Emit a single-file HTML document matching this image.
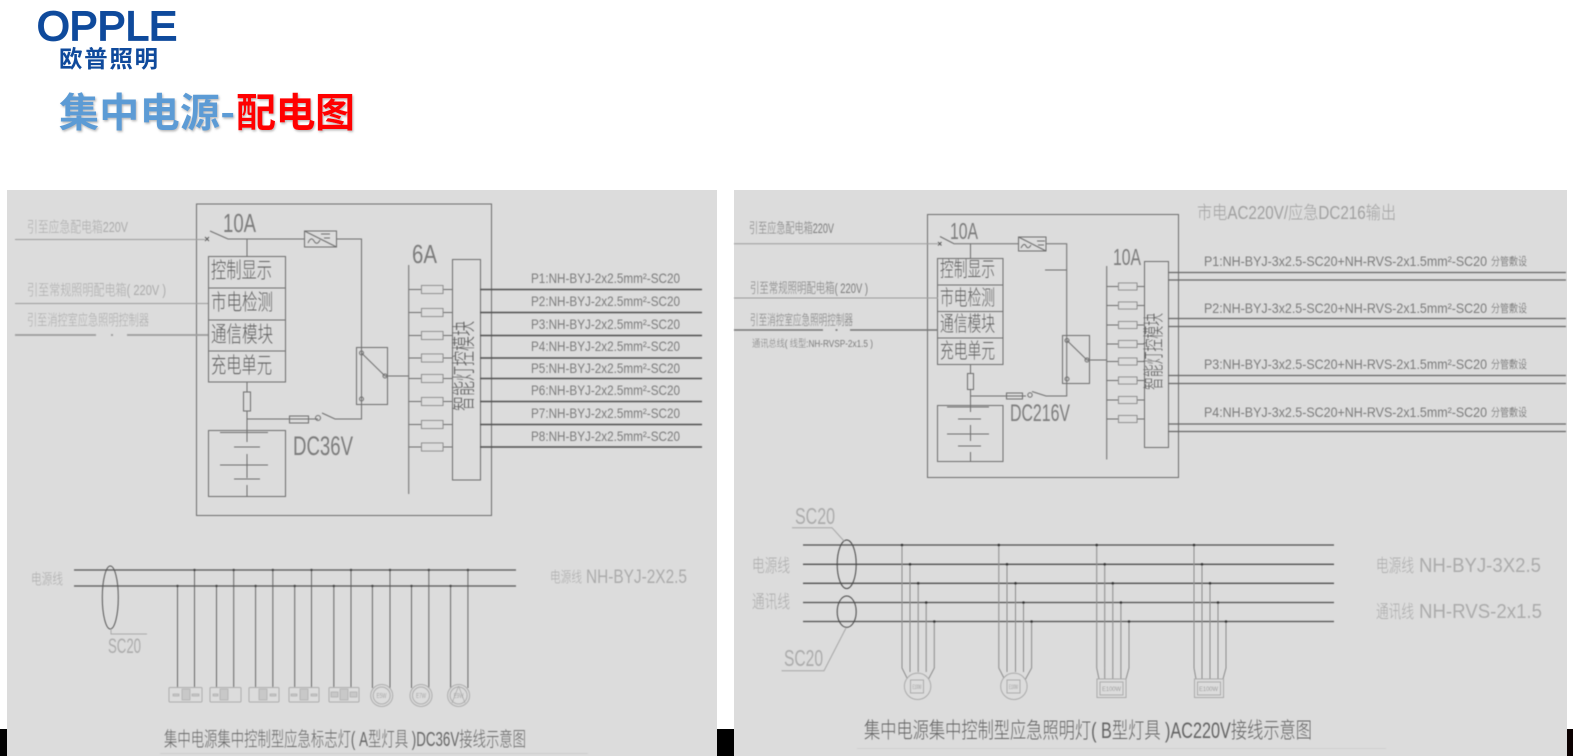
<!DOCTYPE html>
<html lang="zh"><head><meta charset="utf-8"><title>集中电源-配电图</title>
<style>
html,body{margin:0;padding:0;background:#fff;width:1573px;height:756px;overflow:hidden}
svg{display:block;position:absolute;left:0;top:0}
text{font-family:"Liberation Sans","Noto Sans CJK SC",sans-serif}
.c{font-family:"Liberation Sans","Noto Sans CJK SC",sans-serif;font-weight:300}
.d{fill:#5f5f5f}.m{fill:#7c7c7c}.l{fill:#ababab}
</style></head><body>
<svg width="1573" height="756" viewBox="0 0 1573 756" xmlns="http://www.w3.org/2000/svg">
<defs>
<filter id="b" x="-5%" y="-5%" width="110%" height="110%"><feGaussianBlur stdDeviation="0.45"/></filter>
<filter id="s" x="-5%" y="-20%" width="110%" height="140%"><feDropShadow dx="1" dy="1.5" stdDeviation="1" flood-color="#888" flood-opacity=".6"/></filter>
</defs>
<rect x="0" y="729" width="7" height="27" fill="#000"/>
<rect x="717" y="729" width="17" height="27" fill="#000"/>
<rect x="1567" y="729" width="6" height="27" fill="#0a0000"/>
<rect x="7" y="190" width="710" height="566" fill="#dcdcdc"/>
<rect x="734" y="190" width="833" height="566" fill="#dcdcdc"/>

<!-- header -->
<text x="37" y="40" font-size="41" fill="#0f4a9c" stroke="#0f4a9c" stroke-width="1.8" textLength="140" lengthAdjust="spacingAndGlyphs">OPPLE</text>
<text x="59" y="67" font-size="23.5" font-weight="700" fill="#0f4a9c" style="font-family:'Noto Sans CJK SC',sans-serif" textLength="99" lengthAdjust="spacing">欧普照明</text>
<g filter="url(#s)" font-weight="700" style="font-family:'Noto Sans CJK SC',sans-serif">
<text x="59" y="126.5" font-size="40" fill="#5b9bd5" textLength="176" lengthAdjust="spacing" style="font-family:'Noto Sans CJK SC',sans-serif">集中电源-</text>
<text x="236" y="126.5" font-size="40" fill="#ff0000" textLength="119" lengthAdjust="spacing" style="font-family:'Noto Sans CJK SC',sans-serif">配电图</text>
</g>

<g filter="url(#b)">
<!-- LEFT top -->
<g fill="none" stroke="#6e6e6e" stroke-width="1">
<rect x="196.5" y="204" width="295" height="311.5"/>
<rect x="208.5" y="256.5" width="77" height="125.5"/>
<path d="M208.5 288H285.5M208.5 320H285.5M208.5 351H285.5"/>
<rect x="243.5" y="392" width="7" height="19"/>
<rect x="208.5" y="430.5" width="77" height="66"/>
<path d="M210 231L228 239H304M247 239V256.5M247 382V392M247 411V442M234 447H260M247 454V478M220 465H268M234 479H260M247 485V496M220 432.5H268" />
<rect x="304.5" y="231" width="32" height="16"/>
<path d="M304.5 231L336.5 247M308 243q3-7 6-2t6-1M321 234h9M324 238h6"/>
<path d="M336.5 239H361.5V419H335L322 413M318 419H247"/>
<rect x="289.5" y="416" width="19" height="7"/>
<circle cx="318" cy="418" r="2.5"/>
<rect x="356.5" y="347.5" width="31" height="57"/>
<path d="M361.5 353L385 376M385 376H409"/>
<circle cx="361.5" cy="353" r="2"/><circle cx="385" cy="376" r="2"/><circle cx="361.5" cy="399" r="2"/>
<path d="M408.7 265V494"/>
<path d="M409 289.5H453M409 312.5H453M409 335.5H453M409 358H453M409 378.5H453M409 401.5H453M409 424.5H453M409 447H453"/>
<g fill="#dcdcdc" stroke="#8a8a8a">
<rect x="421.5" y="285.5" width="21.5" height="8"/><rect x="421.5" y="308.5" width="21.5" height="8"/><rect x="421.5" y="331.5" width="21.5" height="8"/><rect x="421.5" y="354" width="21.5" height="8"/><rect x="421.5" y="374.5" width="21.5" height="8"/><rect x="421.5" y="397.5" width="21.5" height="8"/><rect x="421.5" y="420.5" width="21.5" height="8"/><rect x="421.5" y="443" width="21.5" height="8"/>
</g>
<rect x="452.5" y="259.5" width="28" height="220.5"/>
</g>
<path d="M205 237l4 4m0-4l-4 4" stroke="#555" stroke-width=".9" fill="none"/>
<g stroke="#9c9c9c" fill="none">
<path d="M15 239.5H205M15 303.5H208" stroke-width="1"/>
<path d="M15 335H96M127 335H208" stroke-width="1.8"/>
<path d="M111 335h2" stroke-width="1.8"/>
</g>
<g stroke="#4e4e4e" fill="none">
<path d="M480 289.5H702M480 312.5H702M480 335.5H702M480 358H702M480 378.5H702M480 401.5H702M480 424.5H702M480 447H702" stroke-width="1.5"/>
</g>
<g class="l">
<text class="c l" x="27" y="232" font-size="15" textLength="101" lengthAdjust="spacingAndGlyphs">引至应急配电箱220V</text>
<text class="c l" x="27" y="295" font-size="15" textLength="139" lengthAdjust="spacingAndGlyphs">引至常规照明配电箱( 220V )</text>
<text class="c l" x="27" y="325" font-size="15" textLength="122" lengthAdjust="spacingAndGlyphs">引至消控室应急照明控制器</text>
</g>
<g class="d">
<text class="c" x="211" y="278" font-size="22" textLength="61" lengthAdjust="spacingAndGlyphs">控制显示</text>
<text class="c" x="211" y="310" font-size="22" textLength="62" lengthAdjust="spacingAndGlyphs">市电检测</text>
<text class="c" x="211" y="342" font-size="22" textLength="62" lengthAdjust="spacingAndGlyphs">通信模块</text>
<text class="c" x="211" y="373" font-size="22" textLength="61" lengthAdjust="spacingAndGlyphs">充电单元</text>
</g>
<g class="m">
<text x="223" y="232" font-size="26" textLength="33" lengthAdjust="spacingAndGlyphs">10A</text>
<text x="293" y="455" font-size="27" textLength="60" lengthAdjust="spacingAndGlyphs">DC36V</text>
<text x="412" y="263" font-size="26" textLength="25" lengthAdjust="spacingAndGlyphs">6A</text>
</g>
<text class="c d" transform="translate(472,411) rotate(-90)" font-size="24" textLength="90" lengthAdjust="spacingAndGlyphs">智能灯控模块</text>
<g class="m">
<text x="531" y="283" font-size="14" textLength="149" lengthAdjust="spacingAndGlyphs">P1:NH-BYJ-2x2.5mm²-SC20</text>
<text x="531" y="306" font-size="14" textLength="149" lengthAdjust="spacingAndGlyphs">P2:NH-BYJ-2x2.5mm²-SC20</text>
<text x="531" y="329" font-size="14" textLength="149" lengthAdjust="spacingAndGlyphs">P3:NH-BYJ-2x2.5mm²-SC20</text>
<text x="531" y="351" font-size="14" textLength="149" lengthAdjust="spacingAndGlyphs">P4:NH-BYJ-2x2.5mm²-SC20</text>
<text x="531" y="373" font-size="14" textLength="149" lengthAdjust="spacingAndGlyphs">P5:NH-BYJ-2x2.5mm²-SC20</text>
<text x="531" y="395" font-size="14" textLength="149" lengthAdjust="spacingAndGlyphs">P6:NH-BYJ-2x2.5mm²-SC20</text>
<text x="531" y="418" font-size="14" textLength="149" lengthAdjust="spacingAndGlyphs">P7:NH-BYJ-2x2.5mm²-SC20</text>
<text x="531" y="441" font-size="14" textLength="149" lengthAdjust="spacingAndGlyphs">P8:NH-BYJ-2x2.5mm²-SC20</text>
</g>

<!-- LEFT bottom -->
<path d="M74 570H516M74 586H516" stroke="#555" stroke-width="1.3" fill="none"/>
<ellipse cx="110.3" cy="597.5" rx="8" ry="31.5" fill="none" stroke="#555" stroke-width="1"/>
<path d="M111 629V634H147" stroke="#aaa" fill="none"/>
<path d="M177.5 586V688M194.5 570V688M216.5 586V688M233.7 570V688M255.6 586V688M272.8 570V688M294.7 586V688M311.5 570V688M333.8 586V688M351 570V688M372.4 586V688M390 570V688M411.5 586V688M428.8 570V688M450.6 586V688M467.9 570V688" stroke="#5a5a5a" stroke-width=".9" fill="none"/>
<g fill="#444">
<circle cx="194.5" cy="570" r="1.2"/><circle cx="233.7" cy="570" r="1.2"/><circle cx="272.8" cy="570" r="1.2"/><circle cx="311.5" cy="570" r="1.2"/><circle cx="351" cy="570" r="1.2"/><circle cx="390" cy="570" r="1.2"/><circle cx="428.8" cy="570" r="1.2"/><circle cx="467.9" cy="570" r="1.2"/>
<circle cx="177.5" cy="586" r="1.2"/><circle cx="216.5" cy="586" r="1.2"/><circle cx="255.6" cy="586" r="1.2"/><circle cx="294.7" cy="586" r="1.2"/><circle cx="333.8" cy="586" r="1.2"/><circle cx="372.4" cy="586" r="1.2"/><circle cx="411.5" cy="586" r="1.2"/><circle cx="450.6" cy="586" r="1.2"/>
</g>
<g fill="#dcdcdc" stroke="#ababab">
<rect x="169" y="687.5" width="33" height="14.5" rx="1"/><rect x="210" y="687.5" width="31" height="14.5" rx="1"/><rect x="249" y="687.5" width="30" height="14.5" rx="1"/><rect x="289" y="687.5" width="30" height="14.5" rx="1"/><rect x="329" y="687.5" width="30" height="14.5" rx="1"/>
<circle cx="381.7" cy="695.5" r="11"/><circle cx="381.7" cy="695.5" r="8.5"/>
<circle cx="421" cy="695.5" r="11"/><circle cx="421" cy="695.5" r="8.5"/>
<circle cx="458.6" cy="695.5" r="11"/><circle cx="458.6" cy="695.5" r="8.5"/>
</g>
<g fill="#c8c8c8" stroke="#b0b0b0" stroke-width=".8">
<rect x="182" y="689" width="8" height="11"/><rect x="220" y="689" width="8" height="11"/><rect x="259" y="689" width="8" height="11"/><rect x="300" y="689" width="8" height="11"/><rect x="340" y="689" width="8" height="11"/>
<rect x="173" y="694" width="6" height="2"/><rect x="192" y="694" width="7" height="2"/><rect x="213" y="694" width="5" height="2"/><rect x="270" y="694" width="6" height="2"/><rect x="291" y="694" width="6" height="2"/><rect x="311" y="694" width="6" height="2"/><rect x="331" y="692" width="7" height="5"/><rect x="350" y="692" width="7" height="5"/>
</g>
<g fill="#a6a6a6" font-size="7">
<text x="376.5" y="698" textLength="10" lengthAdjust="spacingAndGlyphs">E5W</text>
<text x="416" y="698" textLength="10" lengthAdjust="spacingAndGlyphs">E7W</text>
<text x="453.6" y="698" textLength="10" lengthAdjust="spacingAndGlyphs">E9W</text>
</g>
<path d="M458.6 686L452 703M458.6 686L465 703" stroke="#a8a8a8" fill="none" stroke-width=".8"/>
<text class="c l" x="31" y="584" font-size="15" textLength="32" lengthAdjust="spacingAndGlyphs">电源线</text>
<text class="c l" x="550" y="582" font-size="15" textLength="32" lengthAdjust="spacingAndGlyphs">电源线</text>
<text class="l" x="586" y="583" font-size="19" textLength="101" lengthAdjust="spacingAndGlyphs">NH-BYJ-2X2.5</text>
<text class="l" x="108" y="653" font-size="21" textLength="33" lengthAdjust="spacingAndGlyphs">SC20</text>
<text class="c" fill="#666" x="164" y="746" font-size="20" textLength="362" lengthAdjust="spacingAndGlyphs">集中电源集中控制型应急标志灯( A型灯具 )DC36V接线示意图</text>
<path d="M160 753.5H588" stroke="#cdcdcd" fill="none"/>

<!-- RIGHT top -->
<g fill="none" stroke="#6e6e6e" stroke-width="1">
<rect x="927.5" y="214.5" width="251" height="263"/>
<rect x="937.5" y="258.5" width="65.5" height="106"/>
<path d="M937.5 285H1003M937.5 311.5H1003M937.5 338H1003"/>
<rect x="967.5" y="373.5" width="6" height="16"/>
<rect x="937.5" y="405.5" width="65.5" height="56"/>
<path d="M940 236.5L954 243.7H1018M970.5 243.7V258.5M970.5 364.5V373.5M970.5 389.5V412M958 419H981M970.5 425V441M947 434H989M958 446H981M970.5 452V461M947 407H989"/>
<rect x="1018.5" y="237" width="27.5" height="14"/>
<path d="M1018.5 237L1046 251M1021 248q3-6 5-2t5-1M1037 241h8M1038 245h6"/>
<path d="M1046 243.7H1066.7V396H1046L1032 391.5M1026 396H970.5M1045 270H1066.7"/>
<rect x="1006.5" y="393" width="16" height="6"/>
<circle cx="1030" cy="395" r="2.2"/>
<rect x="1062.5" y="335.5" width="27" height="48"/>
<path d="M1067 340.5L1087 360H1107"/>
<circle cx="1067" cy="340.5" r="2"/><circle cx="1087" cy="360" r="2"/><circle cx="1067" cy="379" r="2"/>
<path d="M1106.7 266V459.5"/>
<path d="M1107 286.5H1145M1107 305.5H1145M1107 325H1145M1107 344H1145M1107 361.5H1145M1107 380.5H1145M1107 400H1145M1107 419H1145"/>
<g fill="#dcdcdc" stroke="#8a8a8a">
<rect x="1118.5" y="283" width="18.5" height="7"/><rect x="1118.5" y="302" width="18.5" height="7"/><rect x="1118.5" y="321.5" width="18.5" height="7"/><rect x="1118.5" y="340.5" width="18.5" height="7"/><rect x="1118.5" y="358" width="18.5" height="7"/><rect x="1118.5" y="377" width="18.5" height="7"/><rect x="1118.5" y="396.5" width="18.5" height="7"/><rect x="1118.5" y="415.5" width="18.5" height="7"/>
</g>
<rect x="1144.5" y="261.5" width="24" height="186"/>
</g>
<path d="M938 242l3.5 3.5m0-3.5l-3.5 3.5" stroke="#555" stroke-width=".9" fill="none"/>
<g stroke="#9c9c9c" fill="none">
<path d="M734 243.7H938M734 298H938" stroke-width="1"/>
<path d="M734 330H823M850 330H938" stroke="#777" stroke-width="1.6"/>
<path d="M835.5 330h2" stroke="#777" stroke-width="1.6"/>
</g>
<g stroke="#666" fill="none" stroke-width="1.2">
<path d="M1168 272.5H1566M1168 280H1566M1168 318.5H1566M1168 326.5H1566M1168 375.5H1566M1168 383.5H1566M1168 424H1566M1168 431.5H1566"/>
</g>
<g class="m">
<text class="c" x="749" y="233" font-size="14" textLength="85" lengthAdjust="spacingAndGlyphs">引至应急配电箱220V</text>
<text class="c" x="750" y="293" font-size="14" textLength="118" lengthAdjust="spacingAndGlyphs">引至常规照明配电箱( 220V )</text>
<text class="c" x="750" y="325" font-size="14" textLength="103" lengthAdjust="spacingAndGlyphs">引至消控室应急照明控制器</text>
<text class="c" x="752" y="347" font-size="10" textLength="121" lengthAdjust="spacingAndGlyphs">通讯总线( 线型:NH-RVSP-2x1.5 )</text>
</g>
<g class="d">
<text class="c" x="940" y="276.5" font-size="21" textLength="55" lengthAdjust="spacingAndGlyphs">控制显示</text>
<text class="c" x="940" y="305" font-size="21" textLength="55" lengthAdjust="spacingAndGlyphs">市电检测</text>
<text class="c" x="940" y="331" font-size="21" textLength="55" lengthAdjust="spacingAndGlyphs">通信模块</text>
<text class="c" x="940" y="358" font-size="21" textLength="55" lengthAdjust="spacingAndGlyphs">充电单元</text>
</g>
<g class="m">
<text x="950" y="239" font-size="23" textLength="28" lengthAdjust="spacingAndGlyphs">10A</text>
<text x="1010" y="421" font-size="24" textLength="60" lengthAdjust="spacingAndGlyphs">DC216V</text>
<text x="1113" y="265" font-size="23" textLength="28" lengthAdjust="spacingAndGlyphs">10A</text>
</g>
<text class="c d" transform="translate(1161,390) rotate(-90)" font-size="21" textLength="77" lengthAdjust="spacingAndGlyphs">智能灯控模块</text>
<text class="c" x="1197" y="219" font-size="18" textLength="199" lengthAdjust="spacingAndGlyphs" fill="#a0a0a0">市电AC220V/应急DC216输出</text>
<g class="m">
<text x="1204" y="266" font-size="14" textLength="283" lengthAdjust="spacingAndGlyphs">P1:NH-BYJ-3x2.5-SC20+NH-RVS-2x1.5mm²-SC20</text>
<text x="1204" y="313" font-size="14" textLength="283" lengthAdjust="spacingAndGlyphs">P2:NH-BYJ-3x2.5-SC20+NH-RVS-2x1.5mm²-SC20</text>
<text x="1204" y="369" font-size="14" textLength="283" lengthAdjust="spacingAndGlyphs">P3:NH-BYJ-3x2.5-SC20+NH-RVS-2x1.5mm²-SC20</text>
<text x="1204" y="417" font-size="14" textLength="283" lengthAdjust="spacingAndGlyphs">P4:NH-BYJ-3x2.5-SC20+NH-RVS-2x1.5mm²-SC20</text>
</g>
<g class="d">
<text class="c" x="1491" y="265" font-size="11" textLength="36" lengthAdjust="spacingAndGlyphs">分管敷设</text>
<text class="c" x="1491" y="312" font-size="11" textLength="36" lengthAdjust="spacingAndGlyphs">分管敷设</text>
<text class="c" x="1491" y="368" font-size="11" textLength="36" lengthAdjust="spacingAndGlyphs">分管敷设</text>
<text class="c" x="1491" y="416" font-size="11" textLength="36" lengthAdjust="spacingAndGlyphs">分管敷设</text>
</g>

<!-- RIGHT bottom -->
<path d="M803 545H1334M803 564.3H1334M803 583.3H1334M803 602.5H1334M803 621.5H1334" stroke="#505050" stroke-width="1.3" fill="none"/>
<ellipse cx="846.7" cy="564.3" rx="9.5" ry="24.3" fill="none" stroke="#444" stroke-width="1"/>
<ellipse cx="846.7" cy="611.7" rx="9.5" ry="15.7" fill="none" stroke="#444" stroke-width="1"/>
<path d="M792 527.7H832L844 541M781.6 670.7H824L846 628" stroke="#a6a6a6" fill="none"/>
<g stroke="#8c8c8c" fill="none">
<path d="M902 545V668L908 680M910 564V672M918.2 583V672M926.2 602V672M934.3 621.5V668L928 680"/>
<path d="M998.8 545V668L1005 680M1007 564V672M1015.5 583V672M1023.5 602V672M1031.6 621.5V668L1025 680"/>
<path d="M1096.7 545V668L1099 679M1104.7 564V679M1112.8 583V679M1120.9 602V679M1129 621.5V668L1126 679"/>
<path d="M1194 545V668L1196 679M1202 564V679M1210 583V679M1218 602V679M1226 621.5V668L1223 679"/>
</g>
<g fill="#333">
<circle cx="902" cy="545" r="1.3"/><circle cx="910" cy="564.3" r="1.3"/><circle cx="918.2" cy="583.3" r="1.3"/><circle cx="926.2" cy="602.5" r="1.3"/><circle cx="934.3" cy="621.5" r="1.3"/>
<circle cx="998.8" cy="545" r="1.3"/><circle cx="1007" cy="564.3" r="1.3"/><circle cx="1015.5" cy="583.3" r="1.3"/><circle cx="1023.5" cy="602.5" r="1.3"/><circle cx="1031.6" cy="621.5" r="1.3"/>
<circle cx="1096.7" cy="545" r="1.3"/><circle cx="1104.7" cy="564.3" r="1.3"/><circle cx="1112.8" cy="583.3" r="1.3"/><circle cx="1120.9" cy="602.5" r="1.3"/><circle cx="1129" cy="621.5" r="1.3"/>
<circle cx="1194" cy="545" r="1.3"/><circle cx="1202" cy="564.3" r="1.3"/><circle cx="1210" cy="583.3" r="1.3"/><circle cx="1218" cy="602.5" r="1.3"/><circle cx="1226" cy="621.5" r="1.3"/>
</g>
<g fill="#dcdcdc" stroke="#a8a8a8">
<circle cx="917.6" cy="686.3" r="13.2"/><rect x="910.5" y="680" width="13" height="13"/>
<circle cx="1013.9" cy="686.3" r="13.2"/><rect x="1007" y="680" width="13" height="13"/>
<rect x="1097" y="679" width="29" height="18.5"/><rect x="1100" y="682" width="23" height="13"/>
<rect x="1194.5" y="679" width="29" height="18.5"/><rect x="1197.5" y="682" width="23" height="13"/>
</g>
<g fill="#9a9a9a" font-size="6">
<text x="912.5" y="689" textLength="9" lengthAdjust="spacingAndGlyphs">E100W</text>
<text x="1009" y="689" textLength="9" lengthAdjust="spacingAndGlyphs">E100W</text>
<text x="1102" y="691" textLength="19" lengthAdjust="spacingAndGlyphs">E100W</text>
<text x="1199" y="691" textLength="19" lengthAdjust="spacingAndGlyphs">E100W</text>
</g>
<text class="l" x="795" y="524" font-size="23" textLength="40" lengthAdjust="spacingAndGlyphs">SC20</text>
<text class="l" x="784" y="666" font-size="23" textLength="39" lengthAdjust="spacingAndGlyphs">SC20</text>
<text class="c l" x="752" y="572" font-size="18" textLength="38" lengthAdjust="spacingAndGlyphs">电源线</text>
<text class="c l" x="752" y="608" font-size="18" textLength="38" lengthAdjust="spacingAndGlyphs">通讯线</text>
<text class="c l" x="1376" y="572" font-size="18" textLength="38" lengthAdjust="spacingAndGlyphs">电源线</text>
<text class="l" x="1419" y="572" font-size="20" textLength="122" lengthAdjust="spacingAndGlyphs">NH-BYJ-3X2.5</text>
<text class="c l" x="1376" y="618" font-size="18" textLength="38" lengthAdjust="spacingAndGlyphs">通讯线</text>
<text class="l" x="1419" y="618" font-size="20" textLength="123" lengthAdjust="spacingAndGlyphs">NH-RVS-2x1.5</text>
<text class="c" fill="#626262" x="864" y="738" font-size="22" textLength="448" lengthAdjust="spacingAndGlyphs">集中电源集中控制型应急照明灯( B型灯具 )AC220V接线示意图</text>
<path d="M857 748.5H1386" stroke="#cfcfcf" fill="none"/>
</g>
</svg>
</body></html>
